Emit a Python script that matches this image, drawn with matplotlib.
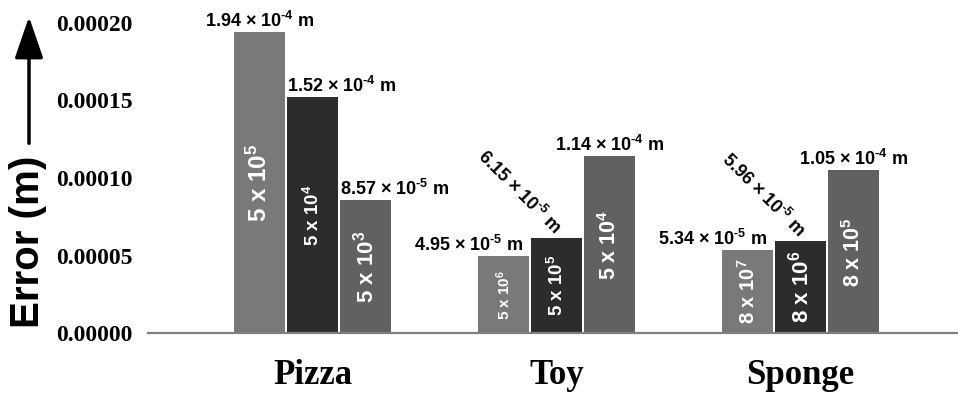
import matplotlib
matplotlib.use("Agg")
import matplotlib.pyplot as plt
import numpy as np

plt.rcParams['font.family'] = ['Liberation Sans', 'DejaVu Sans']
plt.rcParams['mathtext.fontset'] = 'custom'
plt.rcParams['mathtext.bf'] = 'Liberation Sans:bold'
plt.rcParams['mathtext.rm'] = 'Liberation Sans:bold'
plt.rcParams['mathtext.default'] = 'bf'

categories = ['Pizza', 'Toy', 'Sponge']
errors_1 = [1.94e-4, 4.95e-5, 5.34e-5]
errors_2 = [1.52e-4, 6.15e-5, 5.96e-5]
errors_3 = [8.57e-5, 1.14e-4, 1.05e-4]
params_1 = ['5 x 10$^{5}$', '5 x 10$^{6}$', '8 x 10$^{7}$']
params_2 = ['5 x 10$^{4}$', '5 x 10$^{5}$', '8 x 10$^{6}$']
params_3 = ['5 x 10$^{3}$', '5 x 10$^{4}$', '8 x 10$^{5}$']
yticks = [0.0, 0.00005, 0.00010, 0.00015, 0.00020]

colors = ['#797979', '#2c2c2c', '#616161']
# label_place[bar][group] -> how the value label sits on the bar
label_place = [['center', 'right', 'right'],
               ['left', 'diag', 'diag'],
               ['left', 'center', 'center']]
inner_size = [[17.5, 11, 14.5], [13.5, 13.5, 16], [16, 15.5, 15.5]]


def sci(v):
    m, e = ('%.2e' % v).split('e')
    return m + ' \u00d7 10$^{\u2010' + str(abs(int(e))) + '}$ m'


def plot():
    fig = plt.figure(figsize=(9.58, 3.94), dpi=100)
    ax = fig.add_axes([148 / 958, 61 / 394, 810 / 958, 310 / 394])

    x = np.arange(len(categories))
    pitch = 0.217
    width = 0.209
    series = [errors_1, errors_2, errors_3]
    params = [params_1, params_2, params_3]

    for i, (vals, labs) in enumerate(zip(series, params)):
        xs = x + (i - 1) * pitch
        ax.bar(xs, vals, width=width, color=colors[i], zorder=2)
        for j in range(len(xs)):
            v = vals[j]
            place = label_place[i][j]
            if place == 'center':
                ax.annotate(sci(v), (xs[j], v), xytext=(0, 1), textcoords='offset points',
                            ha='center', va='bottom', fontsize=13, fontweight='bold')
            elif place == 'left':
                ax.annotate(sci(v), (xs[j] - width / 2, v), xytext=(0, 1), textcoords='offset points',
                            ha='left', va='bottom', fontsize=13, fontweight='bold')
            elif place == 'right':
                ax.annotate(sci(v), (xs[j] + width / 2, v), xytext=(-4, 1), textcoords='offset points',
                            ha='right', va='bottom', fontsize=13, fontweight='bold')
            else:
                ax.annotate(sci(v), (xs[j], v), xytext=(-4, 0), textcoords='offset points',
                            ha='right', va='bottom', fontsize=13, fontweight='bold',
                            rotation=-45, rotation_mode='anchor')
            ax.text(xs[j], v / 2, labs[j], rotation=90, color='white',
                    ha='center', va='center', fontsize=inner_size[i][j], fontweight='bold')

    ax.set_xlim(-0.674, 2.645)
    ax.set_ylim(0, 0.0002)
    ax.set_yticks(yticks)
    ax.set_yticklabels(['%.5f' % t for t in yticks], family='Liberation Serif',
                       fontweight='bold', fontsize=17)
    ax.set_xticks(x)
    ax.set_xticklabels(categories, family='Liberation Serif', fontweight='bold', fontsize=25)
    ax.tick_params(axis='both', length=0)
    ax.tick_params(axis='y', pad=11)
    ax.tick_params(axis='x', pad=19)
    for s in ['top', 'right', 'left']:
        ax.spines[s].set_visible(False)
    ax.spines['bottom'].set_color('#808080')
    ax.spines['bottom'].set_linewidth(1.6)
    ax.spines['bottom'].set_zorder(3)

    fig.text(28 / 958, 1 - 242 / 394, 'Error (m)', rotation=90, ha='center', va='center',
             fontsize=29, fontweight='bold')
    fig.patches.append(matplotlib.patches.FancyArrowPatch(
        (29 / 958, 1 - 146 / 394), (29 / 958, 1 - 14 / 394), transform=fig.transFigure,
        arrowstyle='-|>,head_length=1.6,head_width=0.55', mutation_scale=16,
        color='black', linewidth=2.5))

    fig.savefig('out.png', dpi=100)


if __name__ == "__main__":
    plot()
